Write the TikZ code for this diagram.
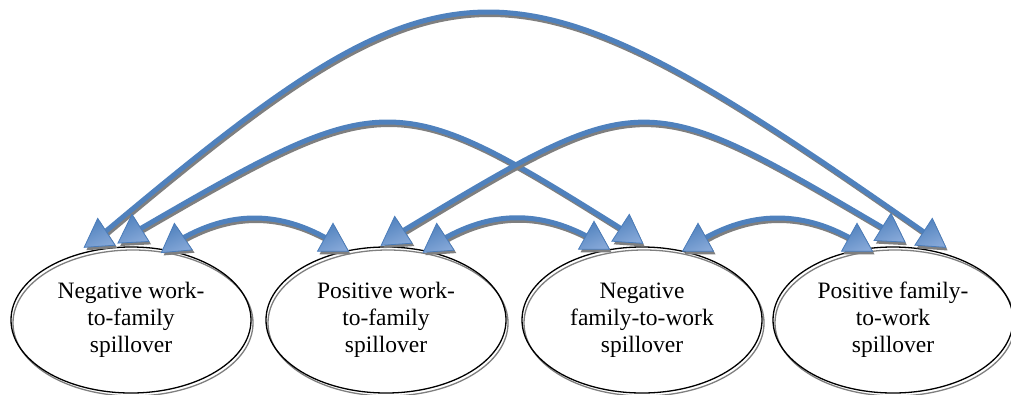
\documentclass[tikz,border=0pt]{standalone}
\usepackage{fontspec}
\setmainfont{Liberation Serif}
\usetikzlibrary{shapes.geometric}
\definecolor{linkblue}{HTML}{4F81BD}
\definecolor{headedge}{HTML}{4A7CBA}
\definecolor{headlight}{HTML}{86A8D8}
\definecolor{shadowgray}{HTML}{7F7F7F}
\begin{document}
\begin{tikzpicture}[x=1pt,y=-1pt,
  spill/.style={ellipse, draw=black, line width=1.3pt,
    minimum width=240pt, minimum height=146pt, inner sep=0pt,
    align=center, font=\fontsize{23.5}{27}\selectfont,
    preaction={draw=shadowgray, line width=1.3pt,
      transform canvas={xshift=2pt,yshift=-3pt}}},
  link/.style={draw=linkblue, line width=5pt,
    preaction={draw=shadowgray, line width=5pt,
      transform canvas={xshift=1.5pt,yshift=-2.5pt}}},
  pics/ahead/.style={code={
    \fill[shadowgray] (-15.5+2,9.3+3) -- (15.5+2,9.3+3) -- (2,-18.7+3) -- cycle;
    \draw[headedge, line width=0.8pt, top color=linkblue, bottom color=headlight,
      shading angle=25]
      (-15.5,9.3) -- (15.5,9.3) -- (0,-18.7) -- cycle;
  }}]
\useasboundingbox (0,0) rectangle (1011,394);

% the four spillover constructs
\node[spill] (e1) at (131,320) {Negative work-\\to-family\\spillover};
\node[spill] (e2) at (386,320) {Positive work-\\to-family\\spillover};
\node[spill] (e3) at (642,320) {Negative\\family-to-work\\spillover};
\node[spill] (e4) at (893,320) {Positive family-\\to-work\\spillover};

% arrow tips sitting on top of each ellipse
\coordinate (hA) at (99,237);
\coordinate (hB) at (133,233);
\coordinate (hC) at (176,242);
\coordinate (hD) at (333,242);
\coordinate (hE) at (396,235);
\coordinate (hF) at (438,242);
\coordinate (hG) at (594,240);
\coordinate (hH) at (628,233);
\coordinate (hI) at (698,242);
\coordinate (hJ) at (857,242);
\coordinate (hK) at (890,232);
\coordinate (hL) at (931,237);

% two-way links between every pair
\draw[link] (hA) .. controls +(357,-300) and +(-428,-300) .. (hL);
\draw[link] (hB) .. controls +(255,-148) and +(-236,-148) .. (hH);
\draw[link] (hE) .. controls +(250,-150) and +(-250,-147) .. (hK);
\draw[link] (hC) .. controls +(53,-32) and +(-53,-32) .. (hD);
\draw[link] (hF) .. controls +(53,-32) and +(-53,-30) .. (hG);
\draw[link] (hI) .. controls +(53,-32) and +(-53,-32) .. (hJ);

\pic[rotate=4] at (hA) {ahead};
\pic[rotate=3] at (hB) {ahead};
\pic[rotate=5] at (hC) {ahead};
\pic at (hD) {ahead};
\pic[rotate=4] at (hE) {ahead};
\pic[rotate=4] at (hF) {ahead};
\pic at (hG) {ahead};
\pic[rotate=-4] at (hH) {ahead};
\pic at (hI) {ahead};
\pic at (hJ) {ahead};
\pic[rotate=-3] at (hK) {ahead};
\pic[rotate=-4] at (hL) {ahead};
\end{tikzpicture}
\end{document}
